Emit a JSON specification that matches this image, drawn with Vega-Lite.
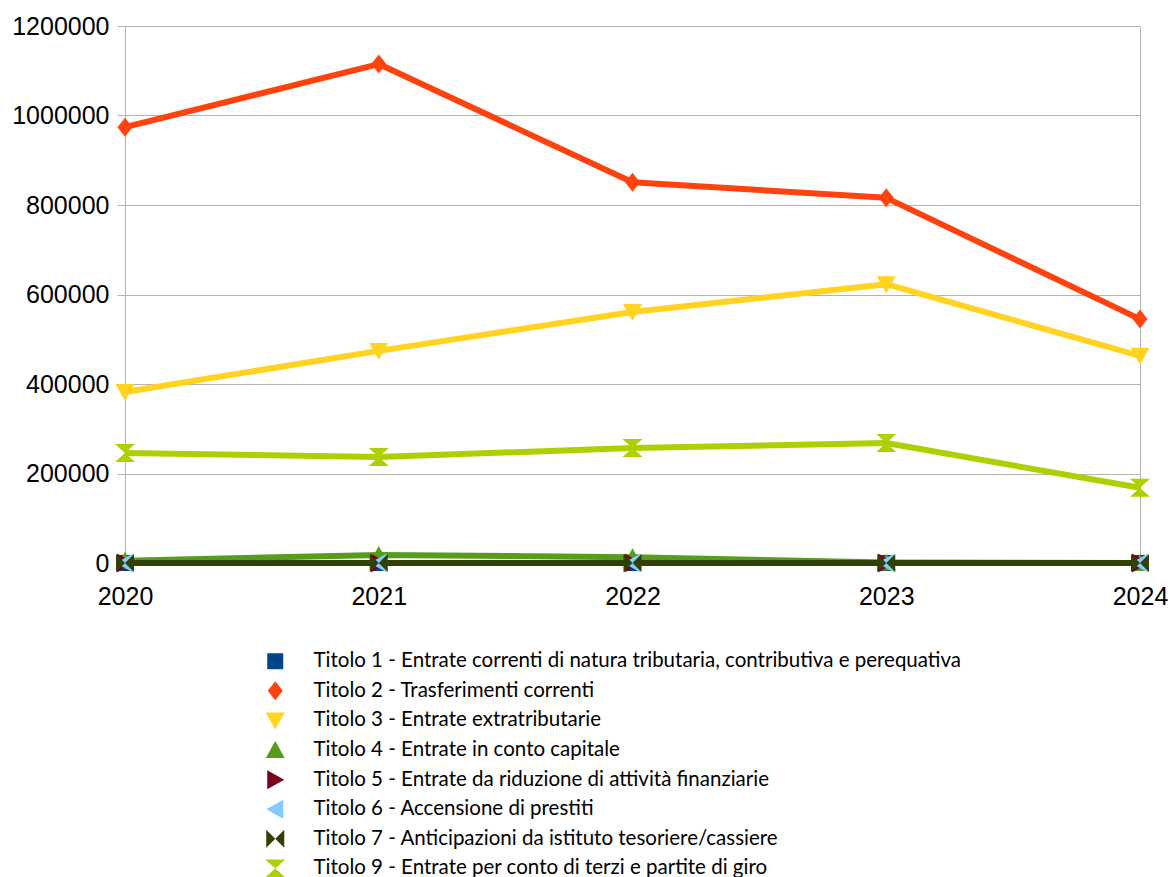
{
  "$schema": "https://vega.github.io/schema/vega-lite/v6.json",
  "width": 1015,
  "height": 537,
  "autosize": {"type": "none"},
  "padding": {"left": 125, "top": 26, "right": 28, "bottom": 314},
  "background": "white",
  "config": {
    "view": {"stroke": "#b3b3b3", "strokeWidth": 1},
    "axis": {"labelFont": "Liberation Sans", "labelColor": "#000000", "gridColor": "#b3b3b3", "domainColor": "#b3b3b3", "tickColor": "#b3b3b3"},
    "legend": {
      "orient": "none", "legendX": 140, "legendY": 625, "title": null,
      "labelFont": "Lato", "labelFontSize": 20.5, "labelColor": "#000000", "labelLimit": 0,
      "symbolSize": 400, "symbolStrokeWidth": 0, "rowPadding": 8.6, "labelOffset": 28
    }
  },
  "data": {
    "values": [
      {"series": "Titolo 1 - Entrate correnti di natura tributaria, contributiva e perequativa", "year": "2020", "value": 0},
      {"series": "Titolo 1 - Entrate correnti di natura tributaria, contributiva e perequativa", "year": "2021", "value": 0},
      {"series": "Titolo 1 - Entrate correnti di natura tributaria, contributiva e perequativa", "year": "2022", "value": 0},
      {"series": "Titolo 1 - Entrate correnti di natura tributaria, contributiva e perequativa", "year": "2023", "value": 0},
      {"series": "Titolo 1 - Entrate correnti di natura tributaria, contributiva e perequativa", "year": "2024", "value": 0},
      {"series": "Titolo 2 - Trasferimenti correnti", "year": "2020", "value": 974000},
      {"series": "Titolo 2 - Trasferimenti correnti", "year": "2021", "value": 1115000},
      {"series": "Titolo 2 - Trasferimenti correnti", "year": "2022", "value": 851000},
      {"series": "Titolo 2 - Trasferimenti correnti", "year": "2023", "value": 816000},
      {"series": "Titolo 2 - Trasferimenti correnti", "year": "2024", "value": 545000},
      {"series": "Titolo 3 - Entrate extratributarie", "year": "2020", "value": 382000},
      {"series": "Titolo 3 - Entrate extratributarie", "year": "2021", "value": 474000},
      {"series": "Titolo 3 - Entrate extratributarie", "year": "2022", "value": 561000},
      {"series": "Titolo 3 - Entrate extratributarie", "year": "2023", "value": 623000},
      {"series": "Titolo 3 - Entrate extratributarie", "year": "2024", "value": 463000},
      {"series": "Titolo 4 - Entrate in conto capitale", "year": "2020", "value": 5000},
      {"series": "Titolo 4 - Entrate in conto capitale", "year": "2021", "value": 18000},
      {"series": "Titolo 4 - Entrate in conto capitale", "year": "2022", "value": 13000},
      {"series": "Titolo 4 - Entrate in conto capitale", "year": "2023", "value": 1000},
      {"series": "Titolo 4 - Entrate in conto capitale", "year": "2024", "value": 0},
      {"series": "Titolo 5 - Entrate da riduzione di attività finanziarie", "year": "2020", "value": 0},
      {"series": "Titolo 5 - Entrate da riduzione di attività finanziarie", "year": "2021", "value": 0},
      {"series": "Titolo 5 - Entrate da riduzione di attività finanziarie", "year": "2022", "value": 0},
      {"series": "Titolo 5 - Entrate da riduzione di attività finanziarie", "year": "2023", "value": 0},
      {"series": "Titolo 5 - Entrate da riduzione di attività finanziarie", "year": "2024", "value": 0},
      {"series": "Titolo 6 - Accensione di prestiti", "year": "2020", "value": 0},
      {"series": "Titolo 6 - Accensione di prestiti", "year": "2021", "value": 0},
      {"series": "Titolo 6 - Accensione di prestiti", "year": "2022", "value": 0},
      {"series": "Titolo 6 - Accensione di prestiti", "year": "2023", "value": 0},
      {"series": "Titolo 6 - Accensione di prestiti", "year": "2024", "value": 0},
      {"series": "Titolo 7 - Anticipazioni da istituto tesoriere/cassiere", "year": "2020", "value": 0},
      {"series": "Titolo 7 - Anticipazioni da istituto tesoriere/cassiere", "year": "2021", "value": 0},
      {"series": "Titolo 7 - Anticipazioni da istituto tesoriere/cassiere", "year": "2022", "value": 0},
      {"series": "Titolo 7 - Anticipazioni da istituto tesoriere/cassiere", "year": "2023", "value": 0},
      {"series": "Titolo 7 - Anticipazioni da istituto tesoriere/cassiere", "year": "2024", "value": 0},
      {"series": "Titolo 9 - Entrate per conto di terzi e partite di giro", "year": "2020", "value": 246000},
      {"series": "Titolo 9 - Entrate per conto di terzi e partite di giro", "year": "2021", "value": 237000},
      {"series": "Titolo 9 - Entrate per conto di terzi e partite di giro", "year": "2022", "value": 257000},
      {"series": "Titolo 9 - Entrate per conto di terzi e partite di giro", "year": "2023", "value": 268000},
      {"series": "Titolo 9 - Entrate per conto di terzi e partite di giro", "year": "2024", "value": 168000}
    ]
  },
  "encoding": {
    "x": {
      "field": "year", "type": "ordinal", "title": null,
      "scale": {"type": "point", "padding": 0},
      "axis": {"labelAngle": 0, "labelFontSize": 25, "tickSize": 8, "labelPadding": 13, "grid": false, "domain": true}
    },
    "y": {
      "field": "value", "type": "quantitative", "title": null,
      "scale": {"domain": [0, 1200000], "nice": false},
      "axis": {"values": [0, 200000, 400000, 600000, 800000, 1000000, 1200000], "format": "d", "labelFontSize": 25, "tickSize": 8, "labelPadding": 8, "grid": true}
    }
  },
  "layer": [
    {
      "mark": {"type": "line", "strokeWidth": 6, "strokeJoin": "round"},
      "encoding": {
        "stroke": {
          "field": "series", "type": "nominal",
          "scale": {"range": ["#004586", "#ff420e", "#ffd320", "#579d1c", "#7e0021", "#83caff", "#314004", "#aecf00"]},
          "legend": null
        }
      }
    },
    {
      "mark": {"type": "point", "filled": true, "opacity": 1, "size": 400, "strokeWidth": 0},
      "encoding": {
        "shape": {
          "field": "series", "type": "nominal",
          "scale": {"range": [
            "M-0.8,-0.8L0.8,-0.8L0.8,0.8L-0.8,0.8Z",
            "M0,-0.95L0.75,0L0,0.95L-0.75,0Z",
            "M-0.95,-0.8L0.95,-0.8L0,0.9Z",
            "M0,-0.9L0.95,0.8L-0.95,0.8Z",
            "M-0.8,-0.95L0.9,0L-0.8,0.95Z",
            "M0.8,-0.95L0.8,0.95L-0.9,0Z",
            "M-0.9,-0.9L0,0L-0.9,0.9ZM0.9,-0.9L0.9,0.9L0,0Z",
            "M-1,-0.9L1,-0.9L0,0ZM0,0L1,0.9L-1,0.9Z"
          ]}
        },
        "color": {
          "field": "series", "type": "nominal",
          "scale": {"range": ["#004586", "#ff420e", "#ffd320", "#579d1c", "#7e0021", "#83caff", "#314004", "#aecf00"]}
        }
      }
    }
  ]
}
